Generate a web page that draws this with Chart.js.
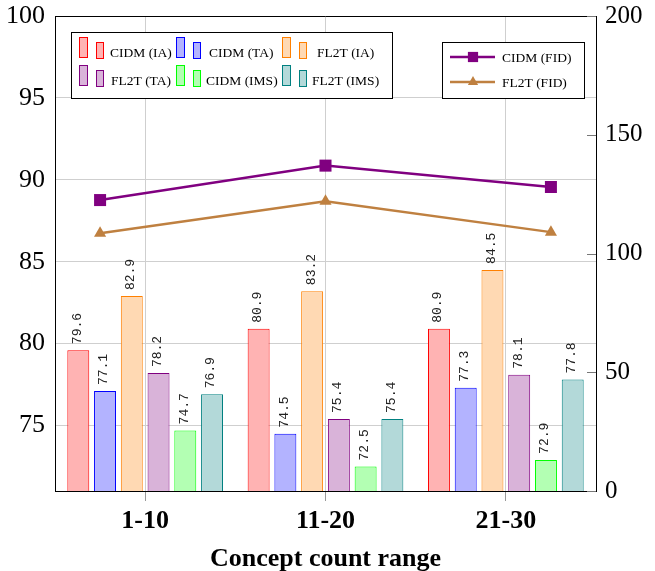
<!DOCTYPE html>
<html>
<head>
<meta charset="utf-8">
<script src="https://cdn.jsdelivr.net/npm/chart.js"></script>
<style>
  body { margin: 0; background: #fff; }
  #wrap { width: 655px; height: 571px; position: relative; }
</style>
</head>
<body>
<div id="wrap"><canvas id="chart"></canvas></div>
<script>
const categories = ['1-10', '11-20', '21-30'];
const cidmIA = [79.6, 80.9, 80.9];
const cidmTA = [77.1, 74.5, 77.3];
const fl2tIA = [82.9, 83.2, 84.5];
const fl2tTA = [78.2, 75.4, 78.1];
const cidmIMS = [74.7, 72.5, 72.9];
const fl2tIMS = [76.9, 75.4, 77.8];
const cidmFID = [122.5, 137, 128];
const fl2tFID = [108.5, 122, 109];
const leftTicks = [75, 80, 85, 90, 95, 100];
const rightTicks = [0, 50, 100, 150, 200];

// the FID lines are spread wider than the bar groups in the original figure
const lineSpread = 1.25;
const serif = '"Liberation Serif", "Times New Roman", serif';

const barSets = [
    { label: 'CIDM (IA)', data: cidmIA, fill: '#ffb3b3', line: '#ff0000' },
    { label: 'CIDM (TA)', data: cidmTA, fill: '#b3b3ff', line: '#0000ff' },
    { label: 'FL2T (IA)', data: fl2tIA, fill: '#ffd9b3', line: '#ff8000' },
    { label: 'FL2T (TA)', data: fl2tTA, fill: '#d9b3d9', line: '#800080' },
    { label: 'CIDM (IMS)', data: cidmIMS, fill: '#b3ffb3', line: '#00ff00' },
    { label: 'FL2T (IMS)', data: fl2tIMS, fill: '#b3d9d9', line: '#008080' }
];

const lineSets = [
    { label: 'CIDM (FID)', data: cidmFID, color: '#800080', style: 'rect', radius: 8.5 },
    { label: 'FL2T (FID)', data: fl2tFID, color: '#bf8040', style: 'triangle', radius: 7 }
];

const datasets = barSets.map(b => ({
    type: 'bar',
    label: b.label,
    data: b.data.map((v, i) => ({ x: i, y: v })),
    backgroundColor: b.fill,
    borderColor: b.line,
    borderWidth: 1,
    borderSkipped: false,
    categoryPercentage: 0.89,
    barPercentage: 0.82,
    yAxisID: 'y',
    order: 2
})).concat(lineSets.map(l => ({
    type: 'line',
    label: l.label,
    data: l.data.map((v, i) => ({ x: 1 + (i - 1) * lineSpread, y: v })),
    borderColor: l.color,
    backgroundColor: l.color,
    borderWidth: 2.5,
    pointStyle: l.style,
    pointRadius: l.radius,
    pointBorderWidth: 0,
    yAxisID: 'y1',
    order: 1
})));

const valueLabels = {
    id: 'valueLabels',
    afterDatasetsDraw(chart) {
        const ctx = chart.ctx;
        ctx.save();
        ctx.font = '13px "Liberation Mono", monospace';
        ctx.fillStyle = '#222';
        ctx.textAlign = 'left';
        ctx.textBaseline = 'middle';
        chart.data.datasets.forEach((ds, di) => {
            if (ds.type !== 'bar') return;
            chart.getDatasetMeta(di).data.forEach((el, i) => {
                ctx.save();
                ctx.translate(el.x - 1, el.y - 6);
                ctx.rotate(-Math.PI / 2);
                ctx.fillText(ds.data[i].y.toFixed(1), 0, 0);
                ctx.restore();
            });
        });
        ctx.restore();
    }
};

const frameAndLegends = {
    id: 'frameAndLegends',
    afterDraw(chart) {
        const ctx = chart.ctx;
        const a = chart.chartArea;
        ctx.save();

        // top border of the plot box
        ctx.strokeStyle = '#000';
        ctx.lineWidth = 1;
        ctx.beginPath();
        ctx.moveTo(a.left, Math.round(a.top) + 0.5);
        ctx.lineTo(a.right, Math.round(a.top) + 0.5);
        ctx.stroke();

        // small inward ticks on the right axis
        const y1 = chart.scales.y1;
        ctx.strokeStyle = '#777';
        rightTicks.forEach(v => {
            const py = Math.round(y1.getPixelForValue(v)) + 0.5;
            ctx.beginPath();
            ctx.moveTo(a.right - 9, py);
            ctx.lineTo(a.right, py);
            ctx.stroke();
        });

        // bar legend
        const bx = 71, by = 32, bw = 321, bh = 66;
        ctx.fillStyle = '#fff';
        ctx.fillRect(bx, by, bw, bh);
        ctx.strokeStyle = '#000';
        ctx.strokeRect(bx + 0.5, by + 0.5, bw, bh);
        const colX = [79, 176, 282];
        const textX = [[110, 209, 317], [111, 206, 312]];
        const rowY = [52, 80];
        ctx.font = '13.5px ' + serif;
        ctx.textBaseline = 'middle';
        ctx.textAlign = 'left';
        barSets.forEach((b, i) => {
            const r = Math.floor(i / 3), c = i % 3;
            const cx = colX[c], cy = rowY[r];
            ctx.fillStyle = b.fill;
            ctx.strokeStyle = b.line;
            ctx.fillRect(cx, cy - 15, 9, 20);
            ctx.strokeRect(cx + 0.5, cy - 15 + 0.5, 8, 20);
            ctx.fillRect(cx + 17, cy - 10, 8, 17);
            ctx.strokeRect(cx + 17.5, cy - 10 + 0.5, 7, 16);
            ctx.fillStyle = '#000';
            ctx.fillText(b.label, textX[r][c], cy + 1);
        });

        // line legend
        const lx = 442, ly = 42, lw = 142, lh = 56;
        ctx.fillStyle = '#fff';
        ctx.fillRect(lx, ly, lw, lh);
        ctx.strokeStyle = '#000';
        ctx.strokeRect(lx + 0.5, ly + 0.5, lw, lh);
        const lineRows = [57, 82];
        lineSets.forEach((l, i) => {
            const y = lineRows[i];
            ctx.strokeStyle = l.color;
            ctx.fillStyle = l.color;
            ctx.lineWidth = 2.5;
            ctx.beginPath();
            ctx.moveTo(450, y);
            ctx.lineTo(495, y);
            ctx.stroke();
            Chart.helpers.drawPoint(ctx, { pointStyle: l.style, radius: l.radius * 0.85, borderWidth: 0 }, 473, y);
            ctx.fillStyle = '#000';
            ctx.fillText(l.label, 502, y + 1);
        });
        ctx.restore();
    }
};

new Chart(document.getElementById('chart'), {
    type: 'bar',
    data: { datasets: datasets },
    options: {
        responsive: true,
        maintainAspectRatio: false,
        animation: false,
        layout: { padding: { top: 16, left: 0, right: 0, bottom: 0 } },
        plugins: {
            legend: { display: false },
            tooltip: { enabled: false }
        },
        scales: {
            x: {
                type: 'linear',
                offset: false,
                min: -0.5,
                max: 2.5,
                afterBuildTicks: s => { s.ticks = categories.map((c, i) => ({ value: i })); },
                grid: { offset: false, color: '#cfcfcf', tickColor: '#999', tickLength: 10 },
                border: { color: '#000' },
                ticks: {
                    color: '#000',
                    padding: 5,
                    maxRotation: 0,
                    autoSkip: false,
                    font: { family: serif, size: 26, weight: 'bold' },
                    callback: (v, i) => categories[i]
                },
                title: {
                    display: true,
                    text: 'Concept count range',
                    color: '#000',
                    padding: 0,
                    font: { family: serif, size: 26, weight: 'bold', lineHeight: 0.9 }
                },
                afterFit: s => { s.height = 80; }
            },
            y: {
                position: 'left',
                min: 71,
                max: 100,
                afterBuildTicks: s => { s.ticks = leftTicks.map(v => ({ value: v })); },
                grid: { color: '#cfcfcf', drawTicks: false },
                border: { color: '#000' },
                ticks: { color: '#000', padding: 10, font: { family: serif, size: 26, lineHeight: 0.4 } },
                afterFit: s => { s.width = 55; }
            },
            y1: {
                position: 'right',
                min: 0,
                max: 200,
                afterBuildTicks: s => { s.ticks = rightTicks.map(v => ({ value: v })); },
                grid: { drawOnChartArea: false, drawTicks: false },
                border: { color: '#000' },
                ticks: { color: '#000', padding: 9, font: { family: serif, size: 25, lineHeight: 0.4 } },
                afterFit: s => { s.width = 59; }
            }
        }
    },
    plugins: [valueLabels, frameAndLegends]
});
</script>
</body>
</html>
